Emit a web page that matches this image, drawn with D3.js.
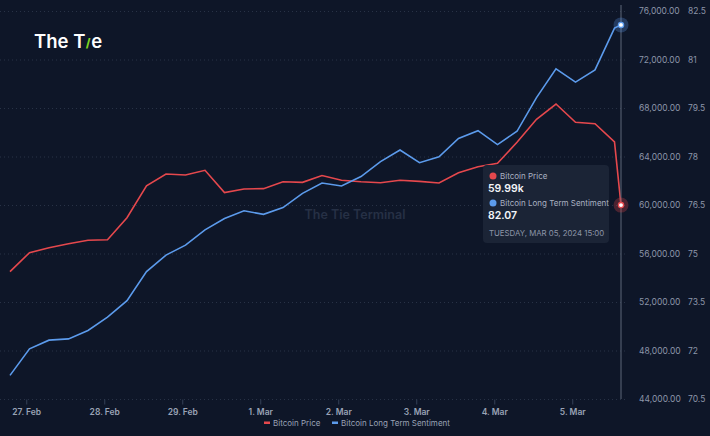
<!DOCTYPE html>
<html>
<head>
<meta charset="utf-8">
<script src="https://cdn.jsdelivr.net/npm/d3@7"></script>
<style>
  html, body { margin: 0; padding: 0; background: #0e1628; }
  svg { display: block; font-family: Inter, "Noto Sans", sans-serif; }
</style>
</head>
<body>
<svg id="chart" width="710" height="436"></svg>
<script>
const times = ['2024-02-26 19:00',
    '2024-02-27 01:00','2024-02-27 07:00','2024-02-27 13:00','2024-02-27 19:00',
    '2024-02-28 01:00','2024-02-28 07:00','2024-02-28 13:00','2024-02-28 19:00',
    '2024-02-29 01:00','2024-02-29 07:00','2024-02-29 13:00','2024-02-29 19:00',
    '2024-03-01 01:00','2024-03-01 07:00','2024-03-01 13:00','2024-03-01 19:00',
    '2024-03-02 01:00','2024-03-02 07:00','2024-03-02 13:00','2024-03-02 19:00',
    '2024-03-03 01:00','2024-03-03 07:00','2024-03-03 13:00','2024-03-03 19:00',
    '2024-03-04 01:00','2024-03-04 07:00','2024-03-04 13:00','2024-03-04 19:00',
    '2024-03-05 01:00','2024-03-05 07:00','2024-03-05 13:00','2024-03-05 15:00'];

const price = [54500, 56070, 56480, 56810, 57090, 57140, 58950, 61590, 62560, 62470,
    62860, 61020, 61320, 61350, 61920, 61870, 62430, 62040, 61920, 61840,
    62040, 61950, 61810, 62660, 63160, 63440, 65170, 67070, 68330, 66820,
    66700, 65200, 59990];

const sentiment = [71.23, 72.05, 72.32, 72.36, 72.62, 73.03, 73.54, 74.44, 74.95, 75.26,
    75.73, 76.08, 76.32, 76.21, 76.42, 76.86, 77.18, 77.09, 77.38, 77.84,
    78.20, 77.81, 77.99, 78.56, 78.80, 78.37, 78.78, 79.82, 80.71, 80.30,
    80.68, 81.97, 82.07];

const priceTicks = [44000, 48000, 52000, 56000, 60000, 64000, 68000, 72000, 76000];
const sentTicks = [70.5, 72, 73.5, 75, 76.5, 78, 79.5, 81, 82.5];
const dayTicks = ['2024-02-27', '2024-02-28', '2024-02-29', '2024-03-01',
    '2024-03-02', '2024-03-03', '2024-03-04', '2024-03-05'];
const seriesNames = ['Bitcoin Price', 'Bitcoin Long Term Sentiment'];

const parseTime = d3.utcParse('%Y-%m-%d %H:%M');
const parseDay = d3.utcParse('%Y-%m-%d');
const data = times.map((t, i) => ({ t: parseTime(t), p: price[i], s: sentiment[i] }));

const red = '#e5484d';
const blue = '#5c9bec';
const font = 'Inter, "Noto Sans", sans-serif';

const svg = d3.select('#chart');

const xScale = d3.scaleUtc()
    .domain(d3.extent(data, d => d.t))
    .range([10, 621]);

const yPrice = d3.scaleLinear().domain([44000, 76000]).range([399, 11]);
const ySent = d3.scaleLinear().domain([70.5, 82.5]).range([399, 11]);

// logo
const logo = svg.append('text')
    .attr('x', 34).attr('y', 48)
    .attr('fill', '#ffffff')
    .style('font-size', '18.5px').style('font-weight', 600);
logo.append('tspan').text('The T');
logo.append('tspan').attr('fill', '#7ed321').attr('dx', 0.5).attr('dy', -1)
    .style('font-size', '12px').style('font-weight', 800).text('/');
logo.append('tspan').attr('dy', 1).attr('dx', 0.5).text('e');

// grid
svg.append('g')
    .selectAll('line')
    .data(priceTicks)
    .enter().append('line')
    .attr('x1', 0).attr('x2', 628)
    .attr('y1', d => yPrice(d) + 0.5).attr('y2', d => yPrice(d) + 0.5)
    .attr('stroke', '#283246')
    .attr('stroke-dasharray', '1,3');

// watermark
svg.append('text')
    .attr('x', 355).attr('y', 219)
    .attr('text-anchor', 'middle')
    .attr('fill', '#263045')
    .style('font-size', '12.5px').style('font-weight', 600)
    .text('The Tie Terminal');

// bottom axis
const gx = svg.append('g')
    .attr('transform', 'translate(0,399.5)')
    .call(d3.axisBottom(xScale)
        .tickValues(dayTicks.map(parseDay))
        .tickFormat(d3.utcFormat('%-d. %b'))
        .tickSize(5)
        .tickPadding(4));
gx.select('.domain').remove();
gx.selectAll('line').attr('stroke', '#354056');
gx.selectAll('text')
    .attr('fill', '#9aa3b6')
    .style('font-size', '8.5px').style('font-weight', 600)
    .style('font-family', font);

// right axes
const gp = svg.append('g')
    .attr('transform', 'translate(639,0)')
    .call(d3.axisRight(yPrice).tickValues(priceTicks)
        .tickFormat(d3.format(',.2f')).tickSize(0).tickPadding(0));
gp.select('.domain').remove();
gp.selectAll('text')
    .attr('fill', '#8c95a8')
    .style('font-size', '8.5px')
    .style('font-family', font);

const gs = svg.append('g')
    .attr('transform', 'translate(688,0)')
    .call(d3.axisRight(ySent).tickValues(sentTicks)
        .tickFormat(d => String(d)).tickSize(0).tickPadding(0));
gs.select('.domain').remove();
gs.selectAll('text')
    .attr('fill', '#8c95a8')
    .style('font-size', '8.5px')
    .style('font-family', font);

// lines
const priceLine = d3.line().x(d => xScale(d.t)).y(d => yPrice(d.p));
const sentLine = d3.line().x(d => xScale(d.t)).y(d => ySent(d.s));

svg.append('path')
    .datum(data)
    .attr('d', priceLine)
    .attr('fill', 'none')
    .attr('stroke', red)
    .attr('stroke-width', 1.6);

svg.append('path')
    .datum(data)
    .attr('d', sentLine)
    .attr('fill', 'none')
    .attr('stroke', blue)
    .attr('stroke-width', 1.6);

// crosshair at last point
const last = data[data.length - 1];
const lx = xScale(last.t);
svg.append('line')
    .attr('x1', lx).attr('x2', lx)
    .attr('y1', 5).attr('y2', 399)
    .attr('stroke', '#5d6678')
    .attr('stroke-width', 1);

[[ySent(last.s), blue], [yPrice(last.p), red]].forEach(([cy, c]) => {
    svg.append('circle').attr('cx', lx).attr('cy', cy).attr('r', 7.5)
        .attr('fill', c).attr('fill-opacity', 0.28);
    svg.append('circle').attr('cx', lx).attr('cy', cy).attr('r', 2.6)
        .attr('fill', '#ffffff').attr('stroke', c).attr('stroke-width', 1.3);
});

// tooltip
const tip = svg.append('g').attr('transform', 'translate(483,165)');
tip.append('rect')
    .attr('width', 126).attr('height', 78).attr('rx', 4)
    .attr('fill', '#1b2436');
tip.append('circle').attr('cx', 10).attr('cy', 11).attr('r', 3.5).attr('fill', red);
tip.append('text').attr('x', 17).attr('y', 14).attr('fill', '#aab2c2')
    .style('font-size', '8px').text(seriesNames[0]);
tip.append('text').attr('x', 5).attr('y', 27).attr('fill', '#f2f4f8')
    .style('font-size', '10.5px').style('font-weight', 600)
    .text((last.p / 1000).toFixed(2) + 'k');
tip.append('circle').attr('cx', 10).attr('cy', 38).attr('r', 3.5).attr('fill', blue);
tip.append('text').attr('x', 17).attr('y', 41).attr('fill', '#aab2c2')
    .style('font-size', '8px').text(seriesNames[1]);
tip.append('text').attr('x', 5).attr('y', 54).attr('fill', '#f2f4f8')
    .style('font-size', '10.5px').style('font-weight', 600)
    .text(last.s.toFixed(2));
tip.append('text').attr('x', 6).attr('y', 71).attr('fill', '#8c95a8')
    .style('font-size', '7.8px')
    .text(d3.utcFormat('%A, %b %d, %Y %H:%M')(last.t).toUpperCase());

// legend
const legend = svg.append('g').attr('transform', 'translate(264,423)');
const lg = legend.selectAll('g')
    .data(seriesNames)
    .enter().append('g')
    .attr('transform', (d, i) => `translate(${i * 68},0)`);
lg.append('rect')
    .attr('x', 0).attr('y', -1.5).attr('width', 6).attr('height', 2.5)
    .attr('fill', (d, i) => i ? blue : red);
lg.append('text')
    .attr('x', 9).attr('y', 3)
    .attr('fill', '#9aa3b6')
    .style('font-size', '8px')
    .text(d => d);
</script>
</body>
</html>
